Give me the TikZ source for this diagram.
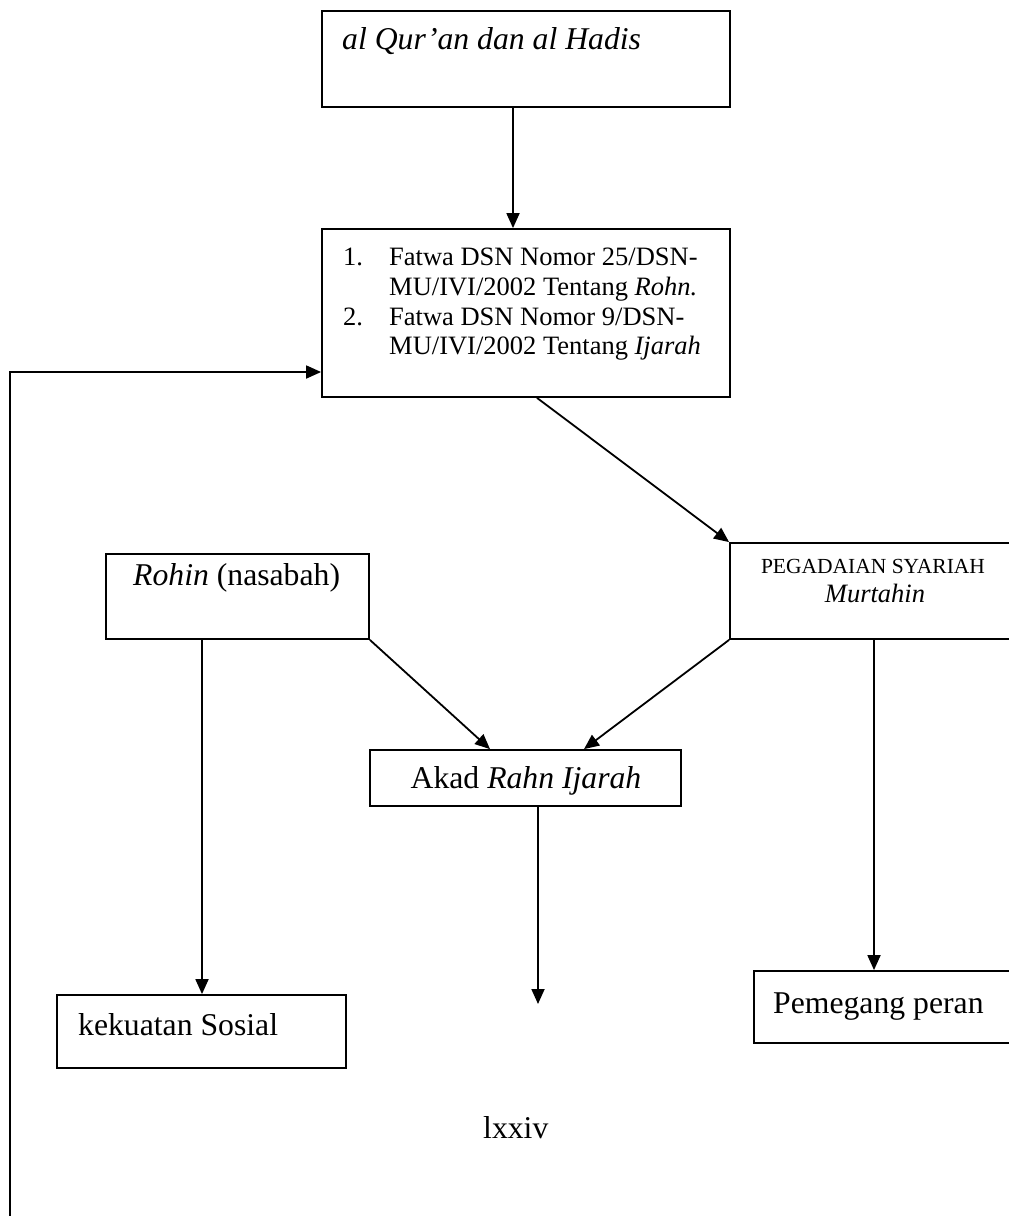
\documentclass[tikz,border=0pt]{standalone}
\usepackage{fontspec}
\setmainfont{Liberation Serif}
\usetikzlibrary{arrows.meta}
\begin{document}
\begin{tikzpicture}[x=1pt,y=-1pt,
  box/.style={draw,line width=1.8pt,rectangle,inner sep=0pt},
  con/.style={line width=1.8pt,-{Triangle[length=15pt,width=13pt]}},
  big/.style={font=\fontsize{31.7}{36}\selectfont,inner sep=0pt,anchor=base west},
  mid/.style={font=\fontsize{26.5}{30}\selectfont,inner sep=0pt,anchor=base west},
]
\useasboundingbox (0,0) rectangle (1009,1216);
\fill[white] (0,0) rectangle (1009,1216);
\clip (0,0) rectangle (1009,1216);
% boxes
\node[box,minimum width=408pt,minimum height=96pt] (quran) at (526,59) {};
\node[box,minimum width=408pt,minimum height=168pt] (fatwa) at (526,313) {};
\node[box,minimum width=263pt,minimum height=85pt] (rohin) at (237.5,596.5) {};
\node[box,minimum width=300pt,minimum height=96pt] (peg) at (880,591) {};
\node[box,minimum width=311pt,minimum height=56pt] (akad) at (525.5,778) {};
\node[box,minimum width=289pt,minimum height=73pt] (kek) at (201.5,1031.5) {};
\node[box,minimum width=276pt,minimum height=72pt] (pem) at (892,1007) {};
% texts
\node[big,font=\fontsize{31.7}{36}\selectfont\itshape] (tquran) at (342,49) {al Qur’an dan al Hadis};
\node[mid] (n1) at (343,265) {1.};
\node[mid] (f1) at (389,265) {Fatwa DSN Nomor 25/DSN-};
\node[mid] (f2) at (389,295) {MU/IVI/2002 Tentang \textit{Rohn.}};
\node[mid] (n2) at (343,325) {2.};
\node[mid] (f3) at (389,325) {Fatwa DSN Nomor 9/DSN-};
\node[mid] (f4) at (389,354) {MU/IVI/2002 Tentang \textit{Ijarah}};
\node[big] (trohin) at (133,585) {\textit{Rohin} (nasabah)};
\node[inner sep=0pt,anchor=base,font=\fontsize{21.5}{25}\selectfont] (tpeg) at (873,573) {PEGADAIAN SYARIAH};
\node[inner sep=0pt,anchor=base,font=\fontsize{26.5}{30}\selectfont\itshape] (tmur) at (875,602) {Murtahin};
\node[big,anchor=base] (takad) at (526,788) {Akad \textit{Rahn Ijarah}};
\node[big] (tkek) at (78,1035) {kekuatan Sosial};
\node[big] (tpem) at (773,1013) {Pemegang peran};
\node[big] (page) at (483,1138) {lxxiv};
% connectors
\coordinate (lb) at (10,1216);
\coordinate (akadend) at (538,1004);
\draw[con] (513,0 |- quran.south) -- (513,0 |- fatwa.north);
\draw[con] (lb) |- (fatwa.west |- 0,372);
\draw[con] (537,0 |- fatwa.south) -- (peg.north west);
\draw[con] (202,0 |- rohin.south) -- (202,0 |- kek.north);
\draw[con] (rohin.south east) -- (490,0 |- akad.north);
\draw[con] (peg.south west) -- (584,0 |- akad.north);
\draw[con] (874,0 |- peg.south) -- (874,0 |- pem.north);
\draw[con] (538,0 |- akad.south) -- (akadend);
\end{tikzpicture}
\end{document}
